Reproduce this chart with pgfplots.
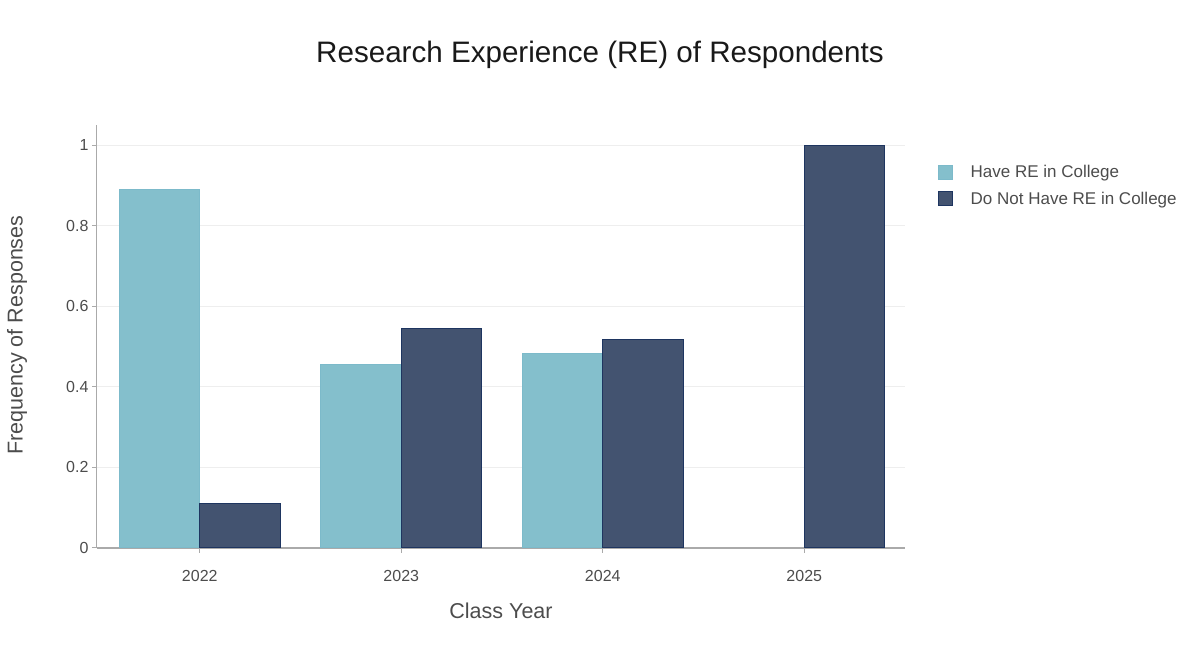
\documentclass[border=0pt]{standalone}
\usepackage{fontspec}
\setmainfont{Liberation Sans}
\usepackage{pgfplots}
\pgfplotsset{compat=1.18}

\definecolor{haveRE}{HTML}{84BFCC}
\definecolor{haveREline}{HTML}{7CBACA}
\definecolor{noRE}{HTML}{435370}
\definecolor{noREline}{HTML}{1E3560}
\definecolor{axisgray}{HTML}{AAAAAA}
\definecolor{gridgray}{HTML}{EEEEEE}

\begin{document}
\begin{tikzpicture}
  \path[use as bounding box] (-97pt,-99pt) rectangle (1103pt,548pt);
  \begin{axis}[
      at={(0,0)}, anchor=south west,
      scale only axis,
      width=808pt, height=423pt,
      ybar,
      xmin=-0.51, xmax=3.5,
      ymin=0, ymax=1.05,
      xtick={0,1,2,3},
      xticklabels={2022,2023,2024,2025},
      ytick={0,0.2,0.4,0.6,0.8,1},
      yticklabels={0,0.2,0.4,0.6,0.8,1},
      axis x line*=bottom,
      axis y line*=left,
      x axis line style={-, draw=axisgray, line width=2pt},
      y axis line style={-, draw=axisgray, line width=1pt},
      tick style={draw=axisgray, line width=1pt},
      tick align=outside,
      major tick length=5pt,
      ymajorgrids,
      grid style={draw=gridgray, line width=1pt},
      tick label style={font=\fontsize{16}{18}\selectfont, text=black!70},
      xticklabel style={yshift=-14pt},
      /pgf/number format/assume math mode=true,
      title={Research Experience (RE) of Respondents},
      title style={at={(rel axis cs:0.6225,1.1513)}, anchor=center,
                   font=\fontsize{29.6}{32}\selectfont, text=black!90},
      xlabel={Class Year},
      ylabel={Frequency of Responses},
      every axis x label/.style={at={(rel axis cs:0.5,0)}, yshift=-63pt,
                   anchor=center, font=\fontsize{21.5}{24}\selectfont, text=black!70},
      every axis y label/.style={at={(rel axis cs:0,0.5035)}, xshift=-80pt,
                   rotate=90, anchor=center, font=\fontsize{21.5}{24}\selectfont, text=black!70},
      legend style={at={(rel axis cs:1.0408,0.91)}, anchor=north west, draw=none,
                   fill=none, inner sep=0pt, row sep=9pt,
                   font=\fontsize{17}{19}\selectfont, text=black!70,
                   cells={anchor=west}},
      legend image code/.code={\draw[#1, draw opacity=1] (0pt,-7pt) rectangle (14pt,7pt);
                               \path[draw=none, fill=none] (14pt,0pt) -- (30pt,0pt);},
    ]
    \addplot[fill=haveRE, draw=haveREline, line width=1pt, bar width=0.4, bar shift=-0.2]
      coordinates {(0,0.889) (1,0.455) (2,0.482)};
    \addplot[fill=noRE, draw=noREline, line width=1pt, bar width=0.4, bar shift=0.2]
      coordinates {(0,0.111) (1,0.545) (2,0.518) (3,1.0)};
    \legend{Have RE in College, Do Not Have RE in College}
  \end{axis}
\end{tikzpicture}
\end{document}
